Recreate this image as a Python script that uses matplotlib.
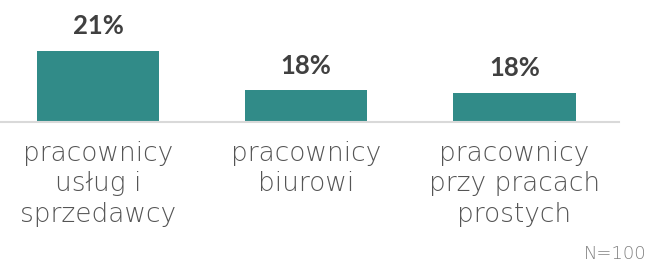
import matplotlib
matplotlib.use("Agg")
import matplotlib.pyplot as plt

categories = ["pracownicy\nusług i\nsprzedawcy", "pracownicy\nbiurowi", "pracownicy\nprzy pracach\nprostych"]
values = [21.0, 18.0, 17.8]
value_labels = ["21%", "18%", "18%"]
note = "N=100"

W, H = 648, 264
fig = plt.figure(figsize=(W / 100, H / 100), dpi=100)
# axis line runs from the left edge to ~618 px, baseline at ~121 px from top
ax = fig.add_axes([-6 / W, (H - 121.5) / H, 624.5 / W, 121.5 / H])

x = range(len(categories))
bars = ax.bar(x, values, width=0.587, color="#318b88", zorder=2)

ax.set_xlim(-0.5, 2.5)
ax.set_ylim(15.6, 24.87)

for b, lab in zip(bars, value_labels):
    ax.annotate(lab, (b.get_x() + b.get_width() / 2, b.get_height()),
                xytext=(0, 9), textcoords="offset points", ha="center", va="bottom",
                fontsize=18.5, fontweight="bold", color="#404040", family="Lato")

for s in ["top", "right", "left"]:
    ax.spines[s].set_visible(False)
ax.spines["bottom"].set_color("#d9d9d9")
ax.spines["bottom"].set_linewidth(1.5)
ax.set_yticks([])
ax.set_xticks(list(x))
ax.set_xticklabels(categories, fontsize=19, color="#555555", family="DejaVu Sans",
                   fontweight="light", linespacing=1.27)
ax.tick_params(axis="x", length=0, pad=14)

fig.text(647 / W, 1 / H, note, ha="right", va="bottom", fontsize=13,
         color="#808080", family="DejaVu Sans", fontweight="light")

fig.savefig("out.png", dpi=100)
